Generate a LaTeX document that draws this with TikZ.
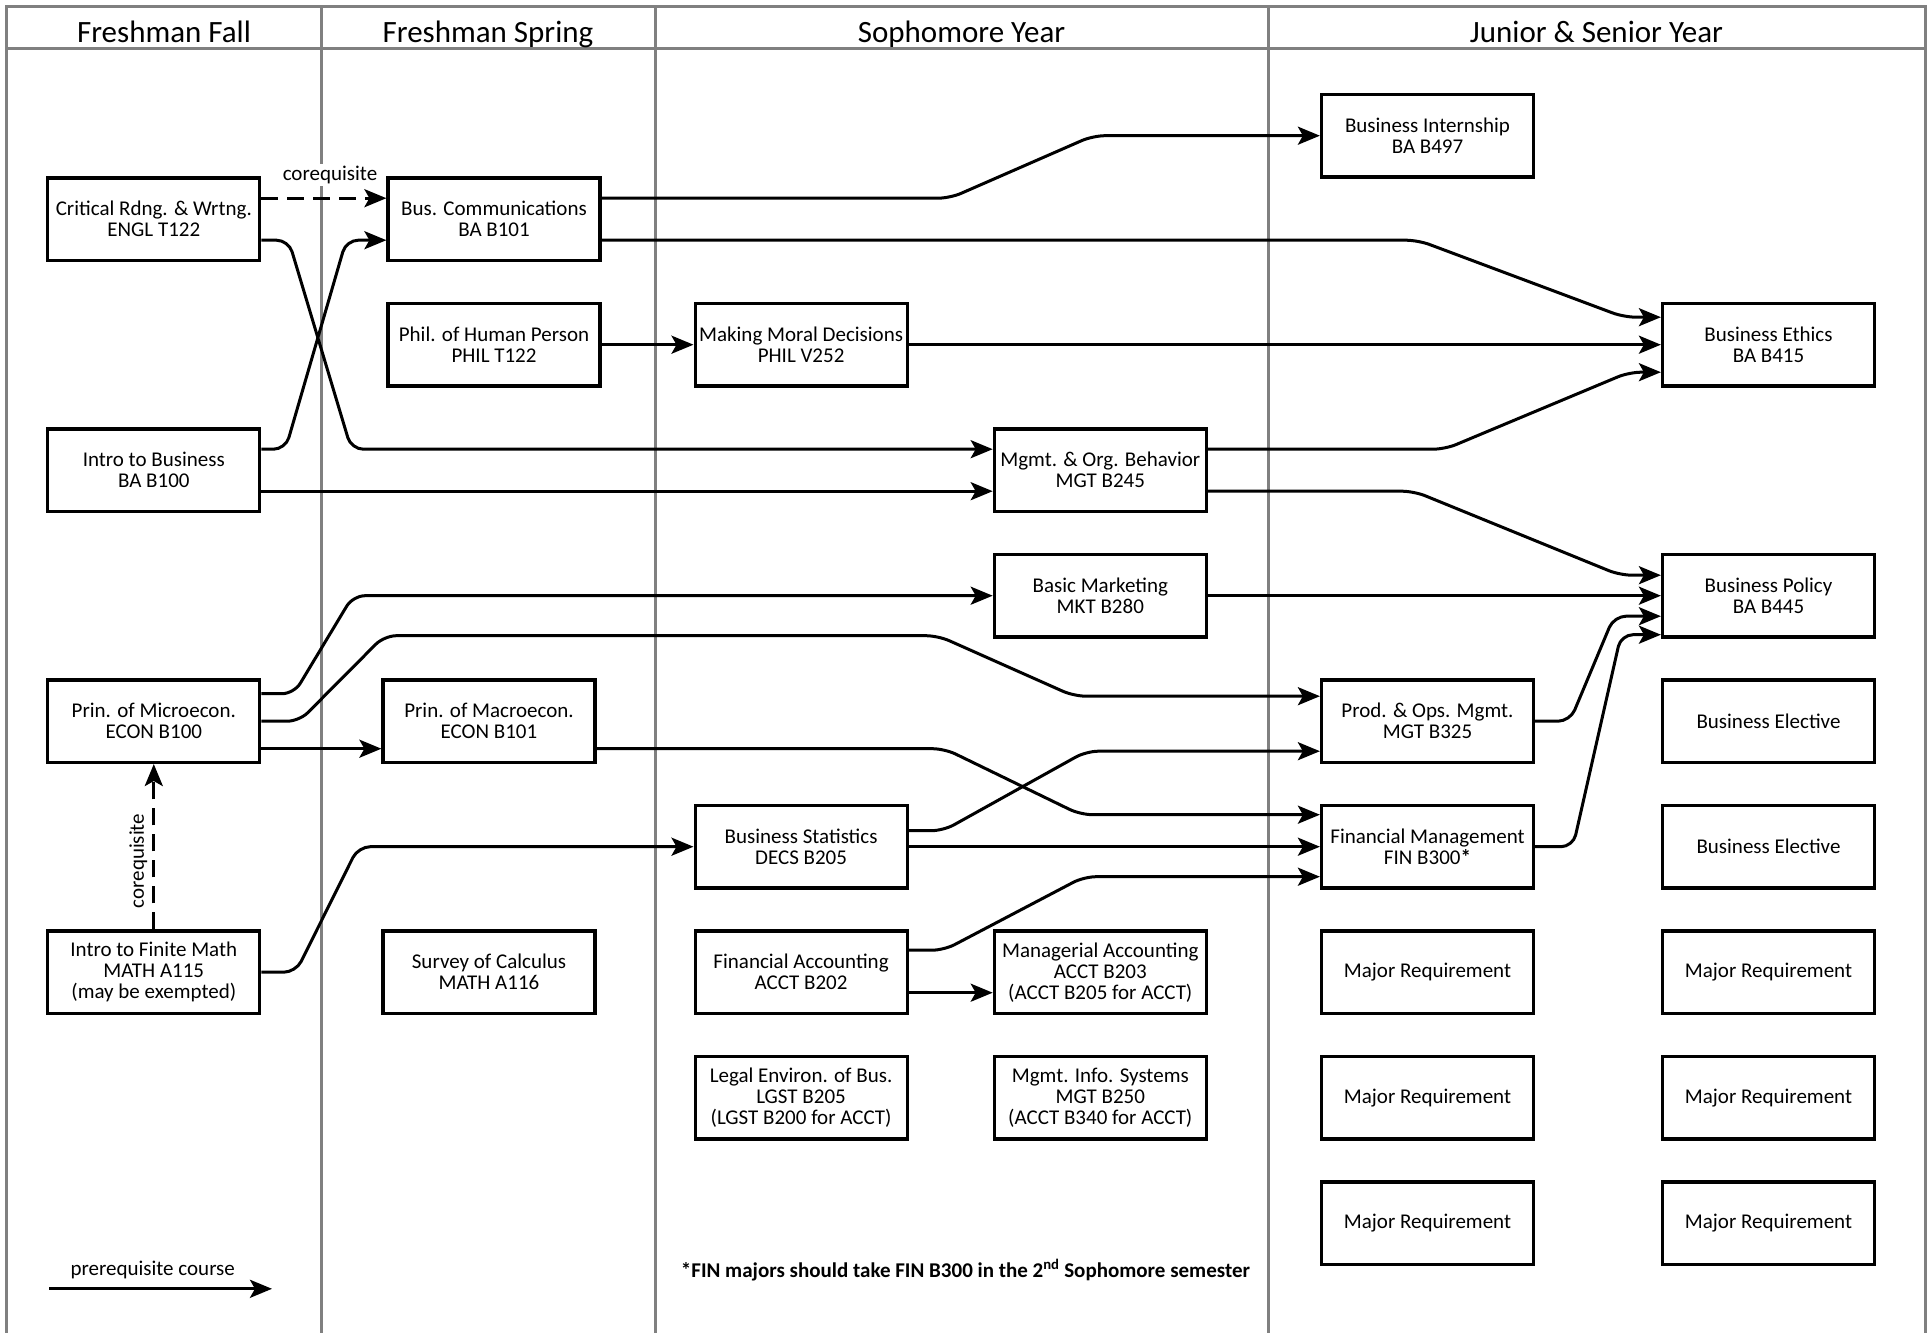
\documentclass[tikz,border=0pt]{standalone}
\usepackage{fontspec}
\setmainfont{Carlito}
\usetikzlibrary{arrows.meta}
\begin{document}
\begin{tikzpicture}[x=1pt,y=-1pt,
  course/.style={draw=black,line width=3.2pt,fill=white,minimum width=212pt,minimum height=82.5pt,inner sep=0pt,align=center,font=\fontsize{21}{21}\selectfont},
  conn/.style={line width=3pt,rounded corners=12pt,-{Stealth[length=22pt,width=18pt,inset=5pt]}},
  coreq/.style={conn,dash pattern=on 17pt off 9pt},
  gridline/.style={draw=black!50,line width=3pt},
  hdr/.style={font=\fontsize{31}{37}\selectfont,anchor=base,inner sep=0pt},
  lbl/.style={font=\fontsize{21}{21}\selectfont,inner sep=2pt}
]
\useasboundingbox (0,0) rectangle (1931,1333);
\fill[white] (0,0) rectangle (1931,1333);
% frame
\draw[gridline] (6.7,1333) -- (6.7,6) -- (1925,6) -- (1925,1333);
\draw[gridline] (6.7,48.5) -- (1925,48.5);
\draw[gridline] (321.4,6) -- (321.4,1333);
\draw[gridline] (655,6) -- (655,1333);
\draw[gridline] (1268,6) -- (1268,1333);
% headers
\node[hdr] (h1) at (164,42.7) {Freshman Fall};
\node[hdr] (h2) at (488,42.7) {Freshman Spring};
\node[hdr] (h3) at (961.5,42.7) {Sophomore Year};
\node[hdr] (h4) at (1596.5,42.7) {Junior \& Senior Year};
% column 1
\node[course] (crit) at (153.8,219.2) {Critical Rdng. \& Wrtng.\\ENGL T122};
\node[course] (intro) at (153.8,470.2) {Intro to Business\\BA B100};
\node[course] (micro) at (153.8,721.2) {Prin. of Microecon.\\ECON B100};
\node[course] (finite) at (153.8,972.2) {Intro to Finite Math\\MATH A115\\(may be exempted)};
% column 2
\node[course] (buscomm) at (494,219.2) {Bus. Communications\\BA B101};
\node[course] (phil) at (494,344.7) {Phil. of Human Person\\PHIL T122};
\node[course] (macro) at (489,721.2) {Prin. of Macroecon.\\ECON B101};
\node[course] (calc) at (489,972.2) {Survey of Calculus\\MATH A116};
% column 3
\node[course] (moral) at (801.1,344.7) {Making Moral Decisions\\PHIL V252};
\node[course] (stats) at (801.1,846.7) {Business Statistics\\DECS B205};
\node[course] (finacct) at (801.1,972.2) {Financial Accounting\\ACCT B202};
\node[course] (legal) at (801.1,1097.7) {Legal Environ. of Bus.\\LGST B205\\(LGST B200 for ACCT)};
\node[course] (mgmt) at (1100.3,470.2) {Mgmt. \& Org. Behavior\\MGT B245};
\node[course] (mkt) at (1100.3,595.7) {Basic Marketing\\MKT B280};
\node[course] (manag) at (1100.3,972.2) {Managerial Accounting\\ACCT B203\\(ACCT B205 for ACCT)};
\node[course] (mis) at (1100.3,1097.7) {Mgmt. Info. Systems\\MGT B250\\(ACCT B340 for ACCT)};
% column 4
\node[course] (intern) at (1427.5,135.7) {Business Internship\\BA B497};
\node[course] (prodops) at (1427.5,721.2) {Prod. \& Ops. Mgmt.\\MGT B325};
\node[course] (finmgmt) at (1427.5,846.7) {Financial Management\\FIN B300\textbf{*}};
\node[course] (majA1) at (1427.5,972.2) {Major Requirement};
\node[course] (majA2) at (1427.5,1097.7) {Major Requirement};
\node[course] (majA3) at (1427.5,1223.2) {Major Requirement};
\node[course] (ethics) at (1768.5,344.7) {Business Ethics\\BA B415};
\node[course] (policy) at (1768.5,595.7) {Business Policy\\BA B445};
\node[course] (elec1) at (1768.5,721.2) {Business Elective};
\node[course] (elec2) at (1768.5,846.7) {Business Elective};
\node[course] (majB1) at (1768.5,972.2) {Major Requirement};
\node[course] (majB2) at (1768.5,1097.7) {Major Requirement};
\node[course] (majB3) at (1768.5,1223.2) {Major Requirement};
% corequisites
\node[lbl,fill=white] (coreqA) at (330,175) {corequisite};
\draw[coreq] ([yshift=21pt]crit.east) -- ([yshift=21pt]buscomm.west);
\draw[coreq] (finite.north) -- (micro.south);
\node[lbl,rotate=90] (coreqB) at (138.4,861) {corequisite};
% prerequisites
\draw[conn] ([yshift=-21pt]crit.east) -- (288.6,240.2) -- (351.3,449.2) -- ([yshift=21pt]mgmt.west);
\draw[conn] ([yshift=21pt]intro.east) -- (285.5,449.2) -- (346.2,240.2) -- ([yshift=-21pt]buscomm.west);
\draw[conn] ([yshift=-21pt]intro.east) -- ([yshift=-21pt]mgmt.west);
\draw[conn] ([yshift=21pt]buscomm.east) -- (950,198.2) -- (1093,135.7) -- (intern.west);
\draw[conn] ([yshift=-21pt]buscomm.east) -- (1418,240.2) -- (1624,317.2) -- ([yshift=27.5pt]ethics.west);
\draw[conn] (phil.east) -- (moral.west);
\draw[conn] (moral.east) -- (ethics.west);
\draw[conn] ([yshift=21pt]mgmt.east) -- (1445,449.2) -- (1629,372.2) -- ([yshift=-27.5pt]ethics.west);
\draw[conn] ([yshift=-21pt]mgmt.east) -- (1414,491.2) -- (1620,575.2) -- ([yshift=20.5pt]policy.west);
\draw[conn] (mkt.east) -- (policy.west);
\draw[conn] ([yshift=27.5pt]micro.east) -- (294,693.7) -- (353,595.7) -- (mkt.west);
\draw[conn] (micro.east) -- (299.3,721.2) -- (384.3,635.7) -- (938,635.7) -- (1074,696.2) -- ([yshift=25pt]prodops.west);
\draw[conn] ([yshift=-27.5pt]micro.east) -- ([yshift=-27.5pt]macro.west);
\draw[conn] ([yshift=-27.5pt]macro.east) -- (944.6,748.7) -- (1080.5,814.7) -- ([yshift=32pt]finmgmt.west);
\draw[conn] ([yshift=16pt]stats.east) -- (943.4,830.7) -- (1086.3,751.2) -- ([yshift=-30pt]prodops.west);
\draw[conn] (stats.east) -- (finmgmt.west);
\draw[conn] ([yshift=22pt]finacct.east) -- (944,950.2) -- (1084,876.7) -- ([yshift=-30pt]finmgmt.west);
\draw[conn] ([yshift=-20.5pt]finacct.east) -- ([yshift=-20.5pt]manag.west);
\draw[conn] (finite.east) -- (295.8,972.2) -- (358.3,846.7) -- (stats.west);
\draw[conn] (prodops.east) -- (1570,721.2) -- (1614,616.2) -- ([yshift=-20.5pt]policy.west);
\draw[conn] (finmgmt.east) -- (1573,846.7) -- (1621,634.7) -- ([yshift=-39pt]policy.west);
% legend and note
\coordinate (legA) at (49,1288.8);
\coordinate (legB) at (272,1288.8);
\draw[conn] (legA) -- (legB);
\node[lbl] (legtext) at (152.7,1270) {prerequisite course};
\node[lbl,font=\fontsize{21}{21}\selectfont\bfseries] (note) at (965.5,1270) {*FIN majors should take FIN B300 in the 2\textsuperscript{nd} Sophomore semester};
\end{tikzpicture}
\end{document}
